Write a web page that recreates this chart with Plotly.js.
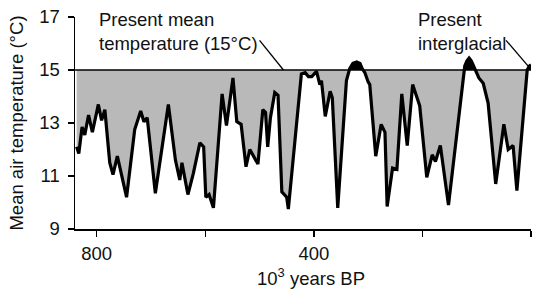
<!DOCTYPE html>
<html>
<head>
<meta charset="utf-8">
<script src="https://cdn.plot.ly/plotly-3.0.1.min.js"></script>
<style>html,body{margin:0;padding:0;background:#fff;}#chart{width:535px;height:291px;}</style>
</head>
<body>
<div id="chart"></div>
<script>
// Years before present (x 10^3)
const years = [837,833,827,822,815,808,797,791,785,776,770,762,745,730,719,713,707,692,668,655,647,643,632,622,610,603,599,593,585,569,561,549,542,534,525,518,503,494,489,485,480,472,466,459,450,447,423,416,410,404,395,389,386,379,370,366,356,340,334,328,321,315,311,306,300,297,286,276,269,265,255,247,238,228,218,205,192,182,176,167,152,122,118,114,110,106,101,96,88,79,65,50,42,33,26,11,7,3,0];
// Mean air temperature (°C)
const temp = [12.1,11.85,12.85,12.55,13.3,12.65,13.7,13.1,13.5,11.5,11.05,11.75,10.2,12.75,13.45,13.05,13.2,10.35,13.7,11.6,10.85,11.5,10.3,11.1,12.25,12.1,10.2,10.3,9.8,14.1,12.9,14.7,13.05,12.95,11.35,12.0,11.45,13.5,13.4,12.1,13.2,14.15,14.05,10.4,10.2,9.75,14.85,14.9,14.75,14.75,14.95,14.45,14.6,13.25,14.2,13.95,9.8,14.6,15.05,15.25,15.3,15.25,15.05,14.9,14.55,14.45,11.75,12.95,12.65,9.85,11.3,11.25,14.1,12.15,14.45,13.65,10.95,11.8,11.55,12.15,9.9,15.15,15.35,15.45,15.35,15.15,14.9,14.7,14.5,13.75,10.7,12.95,12.0,12.15,10.45,14.25,15.0,15.15,15.2];
const presentMean = 15;
const xTickVals = [800,600,400,200,0];
const xTickText = ['800','','400','','0'];
const yTickVals = [9,11,13,15,17];

// add crossing points with the 15 °C line so fills split cleanly
const fx = [], fy = [];
for (let i = 0; i < years.length; i++) {
  if (i > 0) {
    const a = temp[i-1] - presentMean, b = temp[i] - presentMean;
    if (a * b < 0) {
      const t = a / (a - b);
      fx.push(years[i-1] + t * (years[i] - years[i-1]));
      fy.push(presentMean);
    }
  }
  fx.push(years[i]); fy.push(temp[i]);
}
const base = fx.map(() => presentMean);
const below = fy.map(v => Math.min(v, presentMean));
const above = fy.map(v => Math.max(v, presentMean));

const FONT = 'Liberation Sans, Arial, Helvetica, sans-serif';
const FS = 18.5;

const traces = [
  {x: fx, y: base, mode: 'lines', line: {width: 0, color: 'rgba(0,0,0,0)'}, hoverinfo: 'skip', showlegend: false},
  {x: fx, y: below, mode: 'lines', fill: 'tonexty', fillcolor: '#b9b9b9',
   line: {width: 0, color: 'rgba(0,0,0,0)'}, hoverinfo: 'skip', showlegend: false},
  {x: fx, y: base, mode: 'lines', line: {width: 0, color: 'rgba(0,0,0,0)'}, hoverinfo: 'skip', showlegend: false},
  {x: fx, y: above, mode: 'lines', fill: 'tonexty', fillcolor: '#000000',
   line: {width: 0, color: 'rgba(0,0,0,0)'}, hoverinfo: 'skip', showlegend: false},
  {x: [840, 0], y: [presentMean, presentMean], mode: 'lines', line: {width: 1.5, color: '#000'}, hoverinfo: 'skip', showlegend: false},
  {x: years, y: temp, mode: 'lines', line: {width: 3.2, color: '#000', shape: 'linear'}, showlegend: false}
];

const layout = {
  width: 535, height: 291,
  margin: {l: 75, r: 4, t: 17, b: 62},
  paper_bgcolor: '#fff', plot_bgcolor: '#fff',
  font: {family: FONT, size: FS, color: '#111'},
  showlegend: false,
  xaxis: {
    range: [840, 0], tickvals: xTickVals, ticktext: xTickText,
    showgrid: false, zeroline: false, showline: true, linecolor: '#000', linewidth: 1.5,
    ticks: 'outside', ticklen: 6, tickwidth: 1.5, tickcolor: '#000',
    tickfont: {family: FONT, size: FS, color: '#111'}, ticklabelstandoff: 1
  },
  yaxis: {
    range: [9, 17], tickvals: yTickVals,
    showgrid: false, zeroline: false, showline: true, linecolor: '#000', linewidth: 1.5,
    ticks: 'outside', ticklen: 6, tickwidth: 1.5, tickcolor: '#000',
    tickfont: {family: FONT, size: FS, color: '#111'}, ticklabelstandoff: 4,
    title: {text: 'Mean air temperature (°C)', font: {family: FONT, size: FS, color: '#111'}, standoff: 10}
  },
  annotations: [
    {xref: 'paper', yref: 'paper', x: 0.5175, y: -0.225, xanchor: 'center', yanchor: 'middle',
     text: '10<sup>3</sup> years BP', showarrow: false, font: {family: FONT, size: FS, color: '#111'}},
    {xref: 'x', yref: 'y', x: 800, y: 16.47, xanchor: 'left', yanchor: 'middle', align: 'left',
     text: 'Present mean<br>temperature (15°C)', showarrow: false, font: {family: FONT, size: FS, color: '#111'}},
    {xref: 'x', yref: 'y', x: 212, y: 16.47, xanchor: 'left', yanchor: 'middle', align: 'left',
     text: 'Present<br>interglacial', showarrow: false, font: {family: FONT, size: FS, color: '#111'}}
  ],
  shapes: [
    {type: 'line', xref: 'x', yref: 'y', x0: 500, y0: 16.12, x1: 456, y1: 15.0, line: {color: '#000', width: 1.3}},
    {type: 'line', xref: 'x', yref: 'y', x0: 46, y0: 16.12, x1: 4, y1: 15.12, line: {color: '#000', width: 1.3}}
  ]
};

Plotly.newPlot('chart', traces, layout, {displayModeBar: false, staticPlot: true});
</script>
</body>
</html>
